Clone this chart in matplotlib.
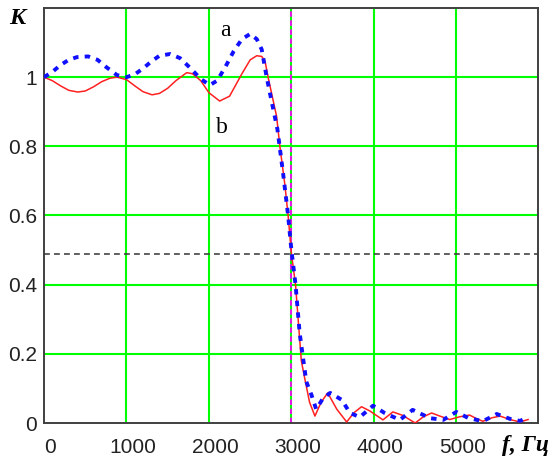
import matplotlib
matplotlib.use('Agg')
import matplotlib.pyplot as plt
import matplotlib.transforms as mtransforms

# curve b (solid red)
f_b = [0, 100, 200, 300, 410, 500, 600, 700, 800, 885, 1000, 1100, 1200, 1310, 1400, 1500,
       1600, 1730, 1800, 1900, 2000, 2130, 2250, 2400, 2500, 2580, 2640, 2680, 2720, 2820,
       2860, 2920, 2960, 3000, 3050, 3120, 3165, 3220, 3285, 3360, 3440, 3550, 3670, 3760,
       3850, 3950, 4110, 4230, 4350, 4500, 4600, 4700, 4800, 4920, 5040, 5160, 5250, 5320,
       5430, 5530, 5650, 5770, 5870]
k_b = [1.0, 0.99, 0.975, 0.962, 0.957, 0.96, 0.972, 0.987, 0.997, 1.0, 0.993, 0.975, 0.958,
       0.949, 0.953, 0.968, 0.99, 1.013, 1.01, 0.99, 0.955, 0.931, 0.945, 1.01, 1.05, 1.062,
       1.06, 1.046, 0.997, 0.887, 0.80, 0.69, 0.6, 0.49, 0.4, 0.18, 0.125, 0.06, 0.02, 0.06,
       0.087, 0.04, 0.003, 0.03, 0.047, 0.035, 0.009, 0.032, 0.022, 0.0, 0.018, 0.029, 0.02,
       0.01, 0.018, 0.023, 0.012, 0.005, 0.015, 0.02, 0.01, 0.003, 0.01]

# curve a (dotted blue)
f_a = [0, 100, 200, 300, 400, 535, 650, 750, 885, 1000, 1100, 1200, 1300, 1400, 1530, 1650,
       1780, 1900, 2010, 2100, 2200, 2300, 2400, 2500, 2580, 2640, 2700, 2760, 2830, 2900,
       2960, 3000, 3050, 3100, 3180, 3245, 3300, 3380, 3470, 3610, 3710, 3830, 3990, 4130,
       4315, 4470, 4680, 4840, 5000, 5140, 5320, 5490, 5650, 5770, 5860]
k_a = [1.0, 1.015, 1.035, 1.05, 1.058, 1.06, 1.05, 1.03, 1.006, 1.0, 1.008, 1.025, 1.045,
       1.062, 1.067, 1.055, 1.025, 0.995, 0.977, 0.99, 1.03, 1.075, 1.11, 1.125, 1.11, 1.08,
       1.0, 0.93, 0.85, 0.72, 0.6, 0.5, 0.4, 0.26, 0.12, 0.08, 0.04, 0.07, 0.087, 0.067,
       0.029, 0.017, 0.05, 0.029, 0.009, 0.038, 0.014, 0.009, 0.032, 0.015, 0.005, 0.026,
       0.012, 0.006, 0.015]

f_cut = 3000
k_level = 0.49
x_ticks = [0, 1000, 2000, 3000, 4000, 5000]
y_ticks = [0, 0.2, 0.4, 0.6, 0.8, 1]
y_labels = ['0', '0.2', '0.4', '0.6', '0.8', '1']

fig = plt.figure(figsize=(5.57, 4.61), dpi=100)
ax = fig.add_axes([44/557, 38/461, 494/557, 415/461])

ax.set_xlim(0, 5990)
ax.set_ylim(0, 1.2)

for x in x_ticks[1:]:
    ax.axvline(x, color='#00ff00', lw=1.5, zorder=1)
for y in y_ticks[1:]:
    ax.axhline(y, color='#00ff00', lw=1.5, zorder=1)

ax.axvline(f_cut, color='#ff00ff', lw=1.3, ls=(0, (3, 2)), zorder=2)
ax.axhline(k_level, color='#444444', lw=1.2, ls=(0, (3.5, 2.5)), zorder=2)

ax.plot(f_b, k_b, color='#ff2020', lw=1.1, zorder=3)
ax.plot(f_a, k_a, color='#1010ff', lw=2.8, ls=(0, (1.4, 1.6)), zorder=4)

ax.set_xticks(x_ticks)
ax.set_xticklabels([str(x) for x in x_ticks])
ax.set_yticks(y_ticks)
ax.set_yticklabels(y_labels)
ax.tick_params(length=0, labelsize=15, labelcolor='#222222')
ax.tick_params(axis='x', pad=11)
ax.tick_params(axis='y', pad=5)
for lab in ax.get_xticklabels() + ax.get_yticklabels():
    lab.set_fontfamily(['Liberation Sans', 'DejaVu Sans'])
off = mtransforms.ScaledTranslation(6/100, 0, fig.dpi_scale_trans)
for lab in ax.get_xticklabels():
    lab.set_transform(lab.get_transform() + off)

for s in ax.spines.values():
    s.set_color('#404040')
    s.set_linewidth(1.4)

fig.text(17/557, 1 - 18/461, 'K', fontsize=17.5, fontweight='bold', fontstyle='italic',
         family='Liberation Serif', ha='center', va='center')
fig.text(502/557, 1 - 445/461, 'f, Гц', fontsize=17, fontweight='bold', fontstyle='italic',
         family='Liberation Serif', ha='left', va='center')
ax.text(2194, 1.136, 'a', fontsize=17, family='Liberation Serif', ha='center', va='center')
ax.text(2158, 0.855, 'b', fontsize=17, family='Liberation Serif', ha='center', va='center')

fig.savefig('out.png', dpi=100)
